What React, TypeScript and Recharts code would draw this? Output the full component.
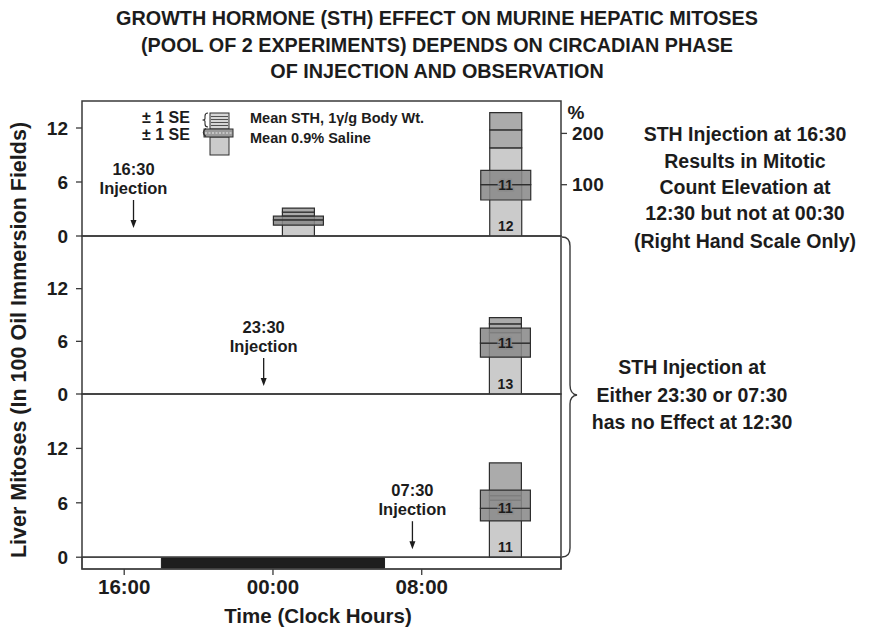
import React from 'react';
import {
  ComposedChart,
  Bar,
  XAxis,
  YAxis,
  ReferenceArea,
  ReferenceLine,
  ReferenceDot,
  LabelList,
} from 'recharts';

const FONT = '"Liberation Sans", Arial, Helvetica, sans-serif';
const INK = '#1c1c1c';
const FRAME = '#3a3a3a';
const EDGE = '#2e2e2e';
const LIGHT = '#cbcbcb';
const MID = '#ababab';
const DARK = '#8a8a8a';

// Clock hours on a continuous scale: 24 = 00:00, 32 = 08:00 of the next day
const timeTicks = [16, 24, 32];
const timeDomain: [number, number] = [13.73, 39.49];
const darkPhase = [18, 30];

const mitosisTicks = [0, 6, 12];
const percentTicks = [100, 200];

const injectionTimes = [16.5, 23.5, 31.5];
const injectionLabels = ['16:30', '23:30', '07:30'];

// Panel A: STH injected at 16:30
const obsTimesA = [25.35, 36.5];
const salineLoA = [1.2, 4.0];
const salineMeanA = [1.8, 5.7];
const salineHiA = [2.2, 7.3];
const sthLoA = [2.2, 9.8];
const sthMeanA = [2.65, 11.8];
const sthHiA = [3.1, 13.7];
const nSalineA = [null, 11];
const nSthA = [null, 12];

// Panel B: STH injected at 23:30
const obsTimesB = [36.5];
const salineLoB = [4.2];
const salineMeanB = [5.8];
const salineHiB = [7.5];
const sthLoB = [7.0];
const sthMeanB = [8.0];
const sthHiB = [8.7];
const nSalineB = [11];
const nSthB = [13];

// Panel C: STH injected at 07:30
const obsTimesC = [36.5];
const salineLoC = [4.0];
const salineMeanC = [5.4];
const salineHiC = [7.4];
const sthLoC = [6.3];
const sthMeanC = [6.8];
const sthHiC = [10.4];
const nSalineC = [11];
const nSthC = [11];

// Saline mean of the 12:30 group in panel A defines 100 %
const controlMean = salineMeanA[1];

type Row = {
  t: number;
  salLo: number;
  salMean: number;
  salHi: number;
  sthLo: number;
  sthMean: number;
  sthHi: number;
  nSal: number | null;
  nSth: number | null;
};

function rowsOf(
  t: number[],
  salLo: number[],
  salMean: number[],
  salHi: number[],
  sthLo: number[],
  sthMean: number[],
  sthHi: number[],
  nSal: (number | null)[],
  nSth: (number | null)[]
): Row[] {
  return t.map((x, i) => ({
    t: x,
    salLo: salLo[i],
    salMean: salMean[i],
    salHi: salHi[i],
    sthLo: sthLo[i],
    sthMean: sthMean[i],
    sthHi: sthHi[i],
    nSal: nSal[i],
    nSth: nSth[i],
  }));
}

const rowsA = rowsOf(obsTimesA, salineLoA, salineMeanA, salineHiA, sthLoA, sthMeanA, sthHiA, nSalineA, nSthA);
const rowsB = rowsOf(obsTimesB, salineLoB, salineMeanB, salineHiB, sthLoB, sthMeanB, sthHiB, nSalineB, nSthB);
const rowsC = rowsOf(obsTimesC, salineLoC, salineMeanC, salineHiC, sthLoC, sthMeanC, sthHiC, nSalineC, nSthC);

const clock = (v: number) => `${String(v % 24).padStart(2, '0')}:00`;

const boxOf = (p: any) => {
  const vb = p.viewBox || p;
  return { x: vb.x, y: vb.y, w: vb.width, h: vb.height };
};

// group size printed at the foot of the narrow column
const footCount = (p: any) => {
  if (p.value == null) return null;
  const b = boxOf(p);
  return (
    <text x={b.x + b.w / 2} y={b.y + b.h - 5} textAnchor="middle" fontFamily={FONT}
      fontWeight={700} fontSize={14} fill={INK}>
      {p.value}
    </text>
  );
};

// group size printed across the saline mean line
const meanCount = (p: any) => {
  if (p.value == null) return null;
  const b = boxOf(p);
  return (
    <text x={b.x + b.w / 2} y={b.y + b.h} dy="0.36em" textAnchor="middle" fontFamily={FONT}
      fontWeight={700} fontSize={14} fill={INK} stroke={DARK} strokeWidth={3}
      paintOrder="stroke">
      {p.value}
    </text>
  );
};

const injectionMark = (label: string) => (p: any) => {
  const { cx, cy } = p;
  return (
    <g>
      <text x={cx} y={cy - 61} textAnchor="middle" fontFamily={FONT} fontWeight={700}
        fontSize={16.5} fill={INK}>{label}</text>
      <text x={cx} y={cy - 42} textAnchor="middle" fontFamily={FONT} fontWeight={700}
        fontSize={16.5} fill={INK}>Injection</text>
      <line x1={cx} y1={cy - 36} x2={cx} y2={cy - 14} stroke={INK} strokeWidth={1.3} />
      <path d={`M${cx - 3},${cy - 16} L${cx + 3},${cy - 16} L${cx},${cy - 8} Z`} fill={INK} />
    </g>
  );
};

const HIDDEN_IDS = ['n1', 'n2', 'n3', 'w1', 'w2'];

type PanelProps = {
  rows: Row[];
  inj: number;
  yMin: number;
  yMax: number;
  top: number;
  bottom: number;
  showTime?: boolean;
  showPercent?: boolean;
};

const tickFont = { fontSize: 19, fontWeight: 700, fill: INK, fontFamily: FONT };

function Panel({ rows, inj, yMin, yMax, top, bottom, showTime, showPercent }: PanelProps) {
  const W = 874;
  const H = 628;
  const xAxisH = showTime ? 59 : 0;
  const rightW = showPercent ? 60 : 0;
  return (
    <div style={{ position: 'absolute', left: 0, top: 0 }}>
      <ComposedChart
        width={W}
        height={H}
        data={rows}
        margin={{ top, bottom: H - bottom - xAxisH, left: 0, right: 313 - rightW }}
      >
        {HIDDEN_IDS.map((id) => (
          <XAxis key={id} xAxisId={id} type="number" dataKey="t" domain={timeDomain} hide allowDataOverflow />
        ))}
        <XAxis
          type="number"
          dataKey="t"
          domain={timeDomain}
          ticks={timeTicks}
          tickFormatter={clock}
          allowDataOverflow
          hide={!showTime}
          height={xAxisH}
          axisLine={false}
          tickSize={6}
          tickMargin={4}
          tickLine={{ stroke: FRAME, strokeWidth: 1.3 }}
          tick={{ ...tickFont, fontSize: 20.5 }}
        />
        <YAxis
          domain={[yMin, yMax]}
          ticks={mitosisTicks}
          allowDataOverflow
          width={82}
          axisLine={false}
          tickSize={6}
          tickMargin={8}
          tickLine={{ stroke: FRAME, strokeWidth: 1.3 }}
          tick={tickFont}
        />
        {showPercent && (
          <YAxis
            yAxisId="pct"
            orientation="right"
            domain={[0, (yMax / controlMean) * 100]}
            ticks={percentTicks}
            allowDataOverflow
            width={rightW}
            axisLine={false}
            tickSize={6}
            tickMargin={5}
            tickLine={{ stroke: FRAME, strokeWidth: 1.3 }}
            tick={tickFont}
          />
        )}

        {showTime && (
          <ReferenceArea x1={timeDomain[0]} x2={timeDomain[1]} y1={yMin} y2={0}
            fill="#ffffff" stroke={FRAME} strokeWidth={1.2} ifOverflow="visible" />
        )}
        {showTime && (
          <ReferenceArea x1={darkPhase[0]} x2={darkPhase[1]} y1={yMin + 0.1} y2={-0.1}
            fill="#1e1e1e" fillOpacity={1} stroke="#1e1e1e" ifOverflow="visible" />
        )}

        <Bar xAxisId="n1" dataKey={(d: Row) => [0, d.sthLo]} barSize={32} fill={LIGHT}
          stroke={EDGE} strokeWidth={1.2} isAnimationActive={false}>
          <LabelList dataKey="nSth" content={footCount} />
        </Bar>
        <Bar xAxisId="n2" dataKey={(d: Row) => [d.sthLo, d.sthMean]} barSize={32} fill={MID}
          stroke={EDGE} strokeWidth={1.2} isAnimationActive={false} />
        <Bar xAxisId="n3" dataKey={(d: Row) => [d.sthMean, d.sthHi]} barSize={32} fill={MID}
          stroke={EDGE} strokeWidth={1.2} isAnimationActive={false} />
        <Bar xAxisId="w1" dataKey={(d: Row) => [d.salLo, d.salMean]} barSize={50} fill={DARK}
          fillOpacity={0.88} stroke={EDGE} strokeWidth={1.2} isAnimationActive={false} />
        <Bar xAxisId="w2" dataKey={(d: Row) => [d.salMean, d.salHi]} barSize={50} fill={DARK}
          fillOpacity={0.88} stroke={EDGE} strokeWidth={1.2} isAnimationActive={false}>
          <LabelList dataKey="nSal" content={meanCount} />
        </Bar>

        <ReferenceArea x1={timeDomain[0]} x2={timeDomain[1]} y1={yMin} y2={yMax}
          fill="none" stroke={FRAME} strokeWidth={1.5} ifOverflow="visible" />
        {showTime && <ReferenceLine y={0} stroke={FRAME} strokeWidth={1.3} />}

        <ReferenceDot x={injectionTimes[inj]} y={0} r={0} ifOverflow="visible"
          shape={injectionMark(injectionLabels[inj])} />
      </ComposedChart>
    </div>
  );
}

const textStyle = { fontFamily: FONT, fontWeight: 700, fill: INK } as const;

function Notes() {
  return (
    <svg width={874} height={628} style={{ position: 'absolute', left: 0, top: 0 }}>
      <g {...textStyle} fontSize={19.8} textAnchor="middle">
        <text x={437} y={25}>GROWTH HORMONE (STH) EFFECT ON MURINE HEPATIC MITOSES</text>
        <text x={437} y={52}>(POOL OF 2 EXPERIMENTS) DEPENDS ON CIRCADIAN PHASE</text>
        <text x={437} y={78}>OF INJECTION AND OBSERVATION</text>
      </g>

      <g {...textStyle} fontSize={19.5} textAnchor="middle">
        <text x={745} y={141}>STH Injection at 16:30</text>
        <text x={745} y={168}>Results in Mitotic</text>
        <text x={745} y={194}>Count Elevation at</text>
        <text x={745} y={220}>12:30 but not at 00:30</text>
        <text x={745} y={248}>(Right Hand Scale Only)</text>
        <text x={692} y={374}>STH Injection at</text>
        <text x={692} y={402}>Either 23:30 or 07:30</text>
        <text x={692} y={429}>has no Effect at 12:30</text>
      </g>

      <text {...textStyle} fontSize={19} x={576} y={119} textAnchor="middle">%</text>

      <text {...textStyle} fontSize={21.5} textAnchor="middle" transform="translate(26,340) rotate(-90)">
        Liver Mitoses (In 100 Oil Immersion Fields)
      </text>
      <text {...textStyle} fontSize={20.5} x={318} y={623} textAnchor="middle">Time (Clock Hours)</text>

      {/* legend glyph */}
      <g stroke={EDGE} strokeWidth={1}>
        <rect x={210} y={113} width={19} height={16} fill="#d6d6d6" />
        {[116.5, 119.5, 122.5, 125.5].map((y) => (
          <line key={y} x1={211} x2={228} y1={y} y2={y} strokeWidth={0.8} />
        ))}
        <rect x={210} y={137} width={19} height={18} fill={LIGHT} />
        <rect x={204} y={129} width={29} height={8} fill="#9a9a9a" />
        <line x1={205} x2={232} y1={133} y2={133} strokeDasharray="2 1.5" stroke="#eeeeee" />
        <path d="M208,113 Q205,113 205,116 L205,118.5 Q205,120 202.5,120 Q205,120 205,121.5 L205,124 Q205,127 208,127"
          fill="none" strokeWidth={1.1} />
        <path d="M206,128.5 Q200.5,132.5 206,136.5" fill="none" strokeWidth={1.1} />
      </g>
      <g {...textStyle} fontSize={16}>
        <text x={142} y={123}>± 1 SE</text>
        <text x={142} y={140}>± 1 SE</text>
        <text x={250} y={123} fontSize={14.5}>Mean STH, 1γ/g Body Wt.</text>
        <text x={250} y={143} fontSize={14.5}>Mean 0.9% Saline</text>
      </g>

      {/* brace grouping the two lower panels */}
      <path
        d="M562,237 Q570,237 570,246 L570,385 Q570,394 577,395 Q570,396 570,404 L570,548 Q570,557 562,557"
        fill="none" stroke={FRAME} strokeWidth={1.4} />
    </svg>
  );
}

export default function App() {
  return (
    <div style={{ position: 'absolute', left: 0, top: 0, width: 874, height: 628, background: '#ffffff' }}>
      <Panel rows={rowsA} inj={0} yMin={0} yMax={15} top={101} bottom={236} showPercent />
      <Panel rows={rowsB} inj={1} yMin={0} yMax={18} top={236} bottom={394} />
      <Panel rows={rowsC} inj={2} yMin={-1.3} yMax={18} top={394} bottom={569} showTime />
      <Notes />
    </div>
  );
}
